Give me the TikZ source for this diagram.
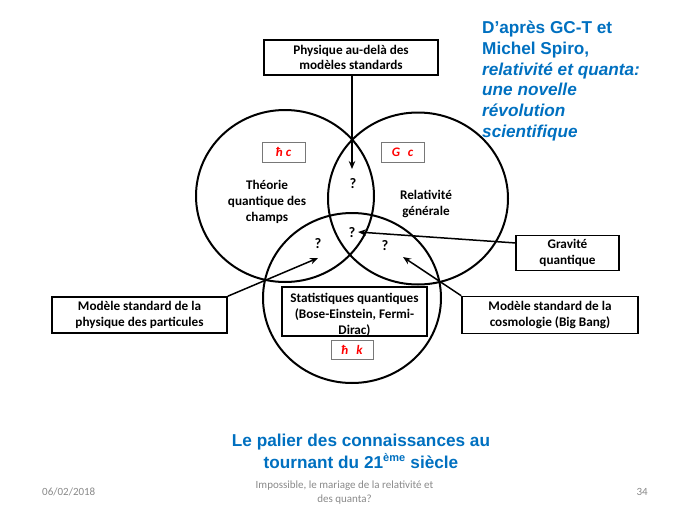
\documentclass[tikz,border=0pt]{standalone}
\usepackage{fontspec}
\setmainfont{Carlito}
\newfontfamily\arialf{Liberation Sans}
\usetikzlibrary{arrows.meta}
\definecolor{tblue}{RGB}{0,112,192}
\definecolor{fgray}{RGB}{137,137,137}
\definecolor{bgray}{RGB}{120,120,120}
\tikzset{
  circ/.style={draw=black, line width=2pt},
  bbox/.style={draw=black, line width=1.6pt, fill=white, inner sep=0pt, font=\fontsize{13.2}{15.5}\selectfont\bfseries, align=center},
  cbox/.style={draw=bgray, line width=0.8pt, fill=white, inner sep=0pt, minimum width=43pt, minimum height=20pt, text=red, font=\fontsize{13}{14}\selectfont\bfseries\itshape},
  txt/.style={inner sep=0pt, font=\fontsize{13.2}{16}\selectfont\bfseries, align=center},
  qm/.style={inner sep=0pt, font=\fontsize{14.5}{15}\selectfont\bfseries},
  arr/.style={draw=black, line width=1.5pt, -{Stealth[length=8pt,width=6.5pt]}},
  ttl/.style={inner sep=0pt, text=tblue, font=\arialf\fontsize{17.2}{22}\selectfont\bfseries, align=center},
  foot/.style={inner sep=0pt, text=fgray, font=\fontsize{11}{13.5}\selectfont, align=center}
}
\begin{document}
\begin{tikzpicture}[x=1pt,y=-1pt]
\useasboundingbox (0,0) rectangle (689,517);
% circles
\draw[circ] (285,196) ellipse [x radius=89pt, y radius=86pt];
\draw[circ] (418,198.5) ellipse [x radius=90pt, y radius=86pt];
\draw[circ] (352,298) ellipse [x radius=89pt, y radius=85pt];
% top box
\node[bbox, minimum width=174pt, minimum height=35pt] (top) at (351,57.5) {Physique au-delà des\\modèles standards};
% constant boxes
\node[cbox] (hc) at (283.5,152) {ħ c};
\node[cbox] (gc) at (402.5,152) {G\hspace{0.6em}c};
% region labels
\node[txt] (qft) at (267,202) {Théorie\\quantique des\\champs};
\node[txt] (rg) at (426,204) {Relativité\\générale};
% question marks
\node[qm] (q1) at (353,184) {?};
\node[qm] (q2) at (352,233) {?};
\node[qm] (q3) at (318,244) {?};
\node[qm] (q4) at (385,246) {?};
% statistics box
\node[bbox, minimum width=145pt, minimum height=49pt] (stat) at (354.5,311.5) {};
\node[txt] (stattxt) at (354.5,315) {Statistiques quantiques\\(Bose-Einstein, Fermi-\\Dirac)};
\node[cbox, minimum width=42pt, minimum height=19pt] (hk) at (352,349.5) {ħ\hspace{0.6em}k};
% side boxes
\node[bbox, minimum width=103pt, minimum height=35pt] (grav) at (567.5,253) {Gravité\\quantique};
\node[bbox, minimum width=175pt, minimum height=36pt] (msp) at (139.5,315) {Modèle standard de la\\physique des particules};
\node[bbox, minimum width=176pt, minimum height=37pt] (msc) at (550,315) {Modèle standard de la\\cosmologie (Big Bang)};
% arrow targets
\coordinate (t1) at (352,169);
\coordinate (t2) at (358,232);
\coordinate (t3) at (318,258);
\coordinate (t4) at (403,257);
\coordinate (gs) at (516,243);
\draw[arr] (top.south -| t1) -- (t1);
\draw[arr] (gs) -- (t2);
\draw[arr] (msp.north east) -- (t3);
\draw[arr] (msc.north west) -- (t4);
% blue texts
\node[ttl, align=left, anchor=north west, font=\arialf\fontsize{17.2}{20.7}\selectfont\bfseries] (ref) at (482,21) {D’après GC-T et\\Michel Spiro,\\\textit{relativité et quanta:}\\\textit{une novelle}\\\textit{révolution}\\\textit{scientifique}};
\node[ttl] (title) at (361,451) {Le palier des connaissances au\\tournant du 21\textsuperscript{\fontsize{11}{11}\selectfont ème} siècle};
% footer
\node[foot, anchor=west] (date) at (42,492) {06/02/2018};
\node[foot] (ftxt) at (344.5,492.5) {Impossible, le mariage de la relativité et\\des quanta?};
\node[foot, anchor=east] (pg) at (648,492) {34};
\end{tikzpicture}
\end{document}
